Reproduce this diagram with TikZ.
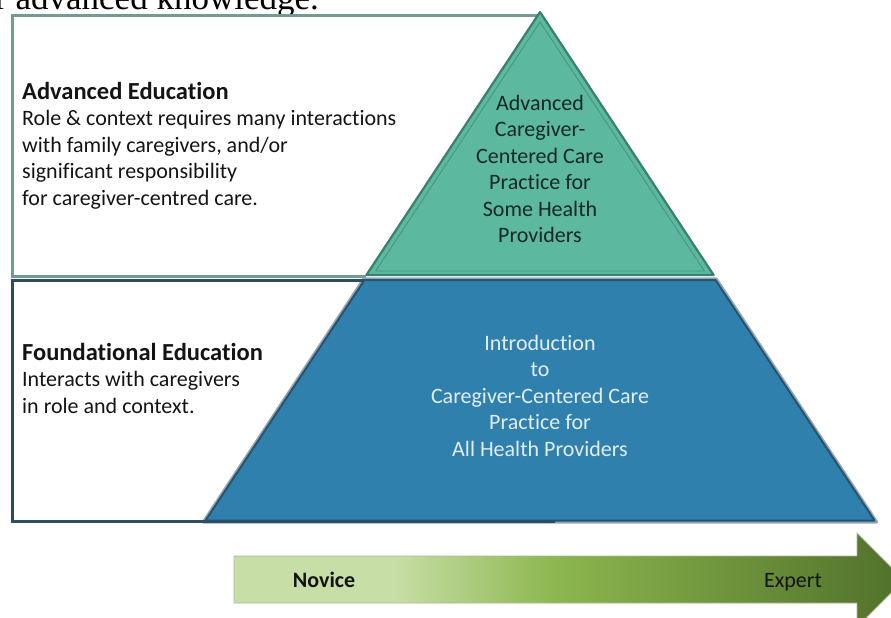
\documentclass[tikz,border=0pt]{standalone}
\usepackage{fontspec}
\setmainfont{Carlito}[Ligatures=NoCommon]
\newfontfamily\carryfont{Liberation Serif}
\definecolor{advline}{RGB}{112,156,146}
\definecolor{foundline}{RGB}{44,78,98}
\definecolor{tealfill}{RGB}{93,184,160}
\definecolor{tealedge}{RGB}{56,128,112}
\definecolor{tealinner}{RGB}{70,150,130}
\definecolor{bluefill}{RGB}{48,128,174}
\definecolor{blueedge}{RGB}{36,84,116}
\definecolor{bluerim}{RGB}{150,165,175}
\definecolor{bluetext}{RGB}{226,237,245}
\definecolor{tealtext}{RGB}{24,40,36}
\definecolor{inktext}{RGB}{20,20,20}
\definecolor{palegreen}{RGB}{199,222,166}
\definecolor{midgreen}{RGB}{140,182,78}
\definecolor{darkgreen}{RGB}{80,112,42}
\definecolor{arrowrim}{RGB}{170,185,150}
% light-to-dark green ramp for the progression arrow
\pgfdeclarehorizontalshading{progress}{100bp}{color(0bp)=(palegreen); color(25bp)=(palegreen); color(37bp)=(palegreen); color(49bp)=(midgreen); color(75bp)=(darkgreen); color(100bp)=(darkgreen)}
\newcommand\levelhead[1]{{\fontsize{24.5}{26.5}\selectfont\bfseries #1}}
\begin{document}
\begin{tikzpicture}[x=1pt,y=-1pt,
  bodyfont/.style={font=\fontsize{22}{26.5}\selectfont},
  blocktext/.style={bodyfont, text=inktext, inner sep=0pt, align=left, anchor=north west},
  tiertext/.style={bodyfont, inner sep=0pt, align=center, anchor=north},
  scaletext/.style={bodyfont, text=inktext, inner sep=0pt, anchor=base}]
\useasboundingbox (0,0) rectangle (891,618);
\clip (0,0) rectangle (891,618);

% trailing line of the preceding paragraph
\node[font=\carryfont\fontsize{35}{40}\selectfont, anchor=base west, inner sep=0pt] (carry) at (-5,9.5) {r advanced knowledge.};

% level boxes behind the pyramid
\draw[advline, line width=3pt] (366,276) -- (12,276) -- (12,16) -- (537,16);

% upper tier: advanced practice
\filldraw[fill=tealfill, draw=tealedge, line width=2.2pt, line join=round] (540,12) -- (713.6,275) -- (366.4,275) -- cycle;
\draw[tealinner, line width=0.9pt] (540,22) -- (704.3,271) -- (375.7,271) -- cycle;

% lower tier: introduction for all providers
\filldraw[fill=bluefill, draw=bluerim, line width=3.2pt, line join=round] (363.8,279) -- (716.2,279) -- (876.6,522) -- (203.4,522) -- cycle;
\draw[blueedge, line width=2pt, line join=round] (364.5,280) -- (715.5,280) -- (874.5,520.5) -- (205.5,520.5) -- cycle;

\draw[foundline, line width=3pt] (364,280.5) -- (12,280.5) -- (12,521) -- (555,521);

% level descriptions
\node[blocktext] (advtext) at (22,82) {\levelhead{Advanced Education}\\Role \& context requires many interactions\\with family caregivers, and/or\\significant responsibility\\for caregiver-centred care.};
\node[blocktext] (foundtext) at (22,343) {\levelhead{Foundational Education}\\Interacts with caregivers\\in role and context.};

% tier labels
\node[tiertext, text=tealtext] (toptier) at (540,95) {Advanced\\Caregiver-\\Centered Care\\Practice for\\Some Health\\Providers};
\node[tiertext, text=bluetext] (basetier) at (540,335) {Introduction\\to\\Caregiver-Centered Care\\Practice for\\All Health Providers};

% novice-to-expert progression arrow
\path[shading=progress, draw=arrowrim, line width=0.8pt] (234,556) -- (857,556) -- (857,533) -- (904,580) -- (857,627) -- (857,603) -- (234,603) -- cycle;
\node[scaletext, font=\fontsize{22}{26.5}\selectfont\bfseries] (novice) at (324,587) {Novice};
\node[scaletext] (expert) at (793,587) {Expert};
\end{tikzpicture}
\end{document}
